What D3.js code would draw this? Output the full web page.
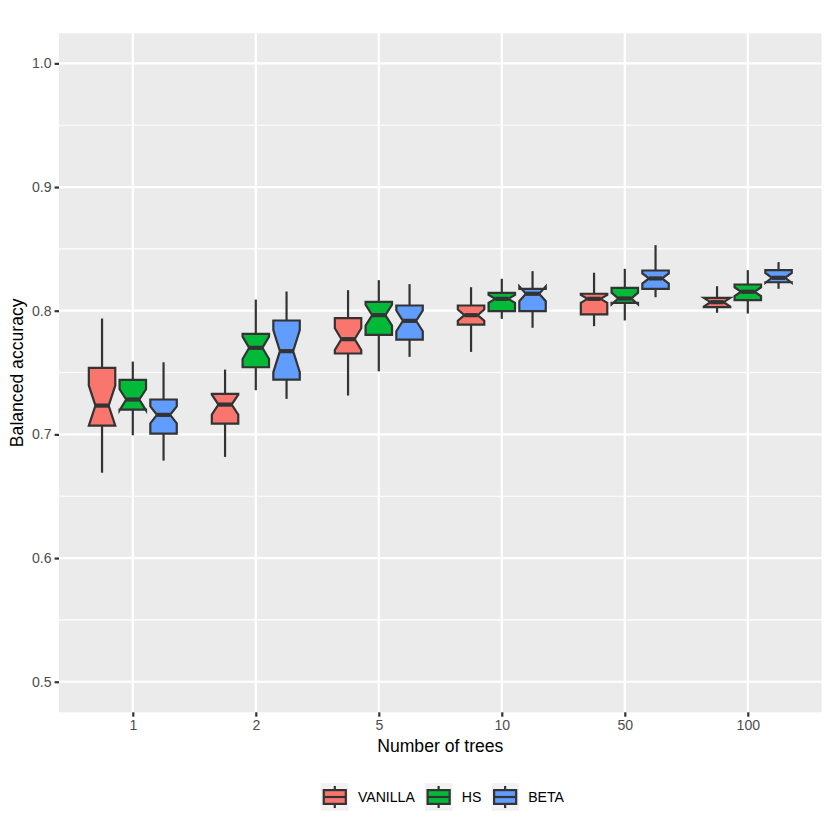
<!DOCTYPE html>
<html>
<head>
<meta charset="utf-8">
<script src="https://cdn.jsdelivr.net/npm/d3@7"></script>
<style>
  html, body { margin: 0; padding: 0; background: #fff; }
  svg { display: block; font-family: "Liberation Sans", Arial, Helvetica, sans-serif; }
</style>
</head>
<body>
<svg id="chart" width="830" height="830"></svg>
<script>
// ---- data ----
const categories = ["1", "2", "5", "10", "50", "100"];
const seriesNames = ["VANILLA", "HS", "BETA"];
const seriesColors = ["#F8766D", "#00BA38", "#619CFF"];
const yTicks = [0.5, 0.6, 0.7, 0.8, 0.9, 1.0];
const yMinorTicks = [0.55, 0.65, 0.75, 0.85, 0.95];
// each row: [ymin, lower, notchlower, middle, notchupper, upper, ymax]
const vanillaStats = [
  [0.669, 0.7071, 0.7071, 0.7233, 0.7395, 0.7538, 0.7937],
  [0.6818, 0.7087, 0.7160, 0.7241, 0.7322, 0.7328, 0.7524],
  [0.7314, 0.7654, 0.7682, 0.7770, 0.7858, 0.7940, 0.8166],
  [0.7667, 0.7888, 0.7919, 0.7964, 0.8009, 0.8042, 0.8190],
  [0.7875, 0.7970, 0.8064, 0.8096, 0.8128, 0.8137, 0.8307],
  [0.7983, 0.8029, 0.8034, 0.8069, 0.8104, 0.8104, 0.8198]
];
const hsStats = [
  [0.6993, 0.7201, 0.7195, 0.7282, 0.7365, 0.7440, 0.7589],
  [0.7357, 0.7543, 0.7610, 0.7700, 0.7790, 0.7813, 0.8090],
  [0.7510, 0.7805, 0.7880, 0.7964, 0.8048, 0.8072, 0.8247],
  [0.7934, 0.7996, 0.8064, 0.8096, 0.8128, 0.8145, 0.8258],
  [0.7921, 0.8064, 0.8052, 0.8099, 0.8146, 0.8185, 0.8339],
  [0.7977, 0.8085, 0.8118, 0.8153, 0.8188, 0.8212, 0.8328]
];
const betaStats = [
  [0.6788, 0.7006, 0.7090, 0.7158, 0.7226, 0.7282, 0.7583],
  [0.7287, 0.7443, 0.7503, 0.7673, 0.7843, 0.7921, 0.8155],
  [0.7627, 0.7767, 0.7834, 0.7918, 0.8002, 0.8042, 0.8215],
  [0.7862, 0.7996, 0.8077, 0.8137, 0.8197, 0.8177, 0.8320],
  [0.8109, 0.8177, 0.8220, 0.8261, 0.8302, 0.8325, 0.8530],
  [0.8177, 0.8230, 0.8226, 0.8266, 0.8306, 0.8328, 0.8393]
];
const allStats = [vanillaStats, hsStats, betaStats];

// ---- layout ----
const svg = d3.select("#chart");
const panel = { left: 59, right: 821.6, top: 33.3, bottom: 712.3 };
const lw = 2.2;

const x = d3.scalePoint().domain(categories).range([panel.left, panel.right]).padding(0.6);
const y = d3.scaleLinear().domain([0.4753, 1.0243]).range([panel.bottom, panel.top]);

// panel background
svg.append("rect")
  .attr("x", panel.left).attr("y", panel.top)
  .attr("width", panel.right - panel.left).attr("height", panel.bottom - panel.top)
  .attr("fill", "#EBEBEB");

// minor grid
svg.append("g").selectAll("line").data(yMinorTicks).join("line")
  .attr("x1", panel.left).attr("x2", panel.right)
  .attr("y1", d => y(d)).attr("y2", d => y(d))
  .attr("stroke", "#fff").attr("stroke-width", 1.1);
// major grid
svg.append("g").selectAll("line").data(yTicks).join("line")
  .attr("x1", panel.left).attr("x2", panel.right)
  .attr("y1", d => y(d)).attr("y2", d => y(d))
  .attr("stroke", "#fff").attr("stroke-width", lw);
svg.append("g").selectAll("line").data(categories).join("line")
  .attr("x1", d => x(d)).attr("x2", d => x(d))
  .attr("y1", panel.top).attr("y2", panel.bottom)
  .attr("stroke", "#fff").attr("stroke-width", lw);

// boxes
const step = x.step();
const dodge = step * 0.25;
const bw = dodge * 0.86;
const indent = bw * 0.25;

allStats.forEach((stats, si) => {
  const g = svg.append("g");
  stats.forEach((s, ci) => {
    const [ymin, lower, nl, mid, nu, upper, ymax] = s;
    const cx = x(categories[ci]) + (si - 1) * dodge;
    const x0 = cx - bw / 2, x1 = cx + bw / 2;
    g.append("line").attr("x1", cx).attr("x2", cx).attr("y1", y(upper)).attr("y2", y(ymax))
      .attr("stroke", "#333333").attr("stroke-width", lw);
    g.append("line").attr("x1", cx).attr("x2", cx).attr("y1", y(lower)).attr("y2", y(ymin))
      .attr("stroke", "#333333").attr("stroke-width", lw);
    const pts = [
      [x0, y(upper)], [x0, y(nu)], [x0 + indent, y(mid)], [x0, y(nl)], [x0, y(lower)],
      [x1, y(lower)], [x1, y(nl)], [x1 - indent, y(mid)], [x1, y(nu)], [x1, y(upper)]
    ];
    g.append("path").attr("d", d3.line()(pts) + "Z")
      .attr("fill", seriesColors[si]).attr("stroke", "#333333")
      .attr("stroke-width", lw).attr("stroke-linejoin", "miter");
    g.append("line").attr("x1", x0 + indent).attr("x2", x1 - indent)
      .attr("y1", y(mid)).attr("y2", y(mid))
      .attr("stroke", "#333333").attr("stroke-width", 4.2);
  });
});

// axes
const axisColor = "#333333";
const textColor = "#4D4D4D";
const yAxis = svg.append("g").attr("transform", `translate(${panel.left},0)`)
  .call(d3.axisLeft(y).tickValues(yTicks).tickFormat(d3.format(".1f")).tickSize(4.4).tickPadding(3));
yAxis.select(".domain").remove();
yAxis.selectAll(".tick line").attr("stroke", axisColor).attr("stroke-width", lw);
yAxis.selectAll(".tick text").attr("fill", textColor).attr("font-size", "14.1px")
  .attr("font-family", "'Liberation Sans', Arial, sans-serif");

const xAxis = svg.append("g").attr("transform", `translate(0,${panel.bottom})`)
  .call(d3.axisBottom(x).tickSize(4.4).tickPadding(3.5));
xAxis.select(".domain").remove();
xAxis.selectAll(".tick line").attr("stroke", axisColor).attr("stroke-width", lw);
xAxis.selectAll(".tick text").attr("fill", textColor).attr("font-size", "14.1px")
  .attr("font-family", "'Liberation Sans', Arial, sans-serif");

// axis titles
svg.append("text").attr("x", (panel.left + panel.right) / 2).attr("y", 752.3)
  .attr("text-anchor", "middle").attr("font-size", "17.6px").attr("fill", "#000")
  .text("Number of trees");
svg.append("text").attr("transform", `translate(22.7,${(panel.top + panel.bottom) / 2}) rotate(-90)`)
  .attr("text-anchor", "middle").attr("font-size", "17.6px").attr("fill", "#000")
  .text("Balanced accuracy");

// legend
const key = 27.6;
const legendY = 797 - key / 2;
const leg = svg.append("g");
let lx = 321;
seriesNames.forEach((name, i) => {
  const kg = leg.append("g").attr("transform", `translate(${lx},${legendY})`);
  kg.append("rect").attr("width", key).attr("height", key).attr("fill", "#F2F2F2");
  kg.append("line").attr("x1", key / 2).attr("x2", key / 2).attr("y1", key * 0.1).attr("y2", key * 0.25)
    .attr("stroke", "#333333").attr("stroke-width", lw);
  kg.append("line").attr("x1", key / 2).attr("x2", key / 2).attr("y1", key * 0.75).attr("y2", key * 0.9)
    .attr("stroke", "#333333").attr("stroke-width", lw);
  kg.append("rect").attr("x", key * 0.1).attr("y", key * 0.25).attr("width", key * 0.8).attr("height", key * 0.5)
    .attr("fill", seriesColors[i]).attr("stroke", "#333333").attr("stroke-width", lw);
  kg.append("line").attr("x1", key * 0.1).attr("x2", key * 0.9).attr("y1", key / 2).attr("y2", key / 2)
    .attr("stroke", "#333333").attr("stroke-width", lw);
  const t = leg.append("text").attr("x", lx + key + 9.3).attr("y", 797).attr("dy", "0.35em")
    .attr("font-size", "14.1px").attr("fill", "#000").text(name);
  lx = lx + key + 9.3 + t.node().getComputedTextLength() + 10;
});
</script>
</body>
</html>
